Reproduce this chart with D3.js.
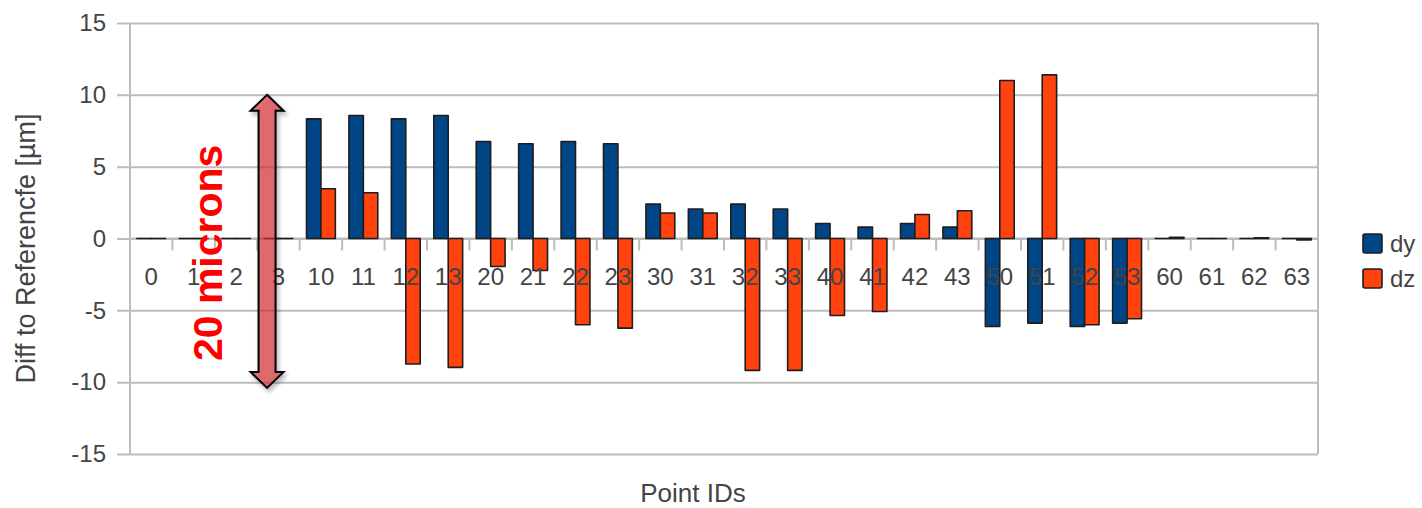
<!DOCTYPE html>
<html>
<head>
<meta charset="utf-8">
<script src="https://cdn.jsdelivr.net/npm/d3@7"></script>
<style>
  html, body { margin: 0; padding: 0; background: #fff; }
  svg { display: block; font-family: "Liberation Sans", Arial, sans-serif; }
</style>
</head>
<body>
<svg id="chart" width="1422" height="508"></svg>
<script>
// Point IDs along the x axis
const pointIds = ["0","1","2","3","10","11","12","13","20","21","22","23",
                  "30","31","32","33","40","41","42","43","50","51","52","53",
                  "60","61","62","63"];
// Difference to reference in microns
const dyValues = [0, 0, 0, 0, 8.33, 8.56, 8.33, 8.56, 6.75, 6.59, 6.75, 6.59,
                  2.39, 2.05, 2.39, 2.05, 1.04, 0.79, 1.04, 0.79,
                  -6.12, -5.89, -6.12, -5.89, 0, 0, 0, 0];
const dzValues = [0, 0, 0, 0, 3.46, 3.18, -8.74, -8.97, -1.95, -2.23, -6.0, -6.24,
                  1.77, 1.77, -9.18, -9.18, -5.36, -5.08, 1.67, 1.93,
                  11.0, 11.39, -6.0, -5.59, 0.08, 0, 0.05, -0.1];
const seriesNames = ["dy", "dz"];
const seriesColors = ["#004586", "#ff420e"];
const yTicks = [-15, -10, -5, 0, 5, 10, 15];
const yDomain = [-15, 15];
// Annotation: span of the double arrow and its label
const arrowSpan = [10, -10.4];
const arrowLabel = "20 microns";

const svg = d3.select("#chart");
const plot = { left: 130, right: 1318, top: 23, bottom: 454 };

const x = d3.scaleBand()
  .domain(pointIds)
  .range([plot.left, plot.right])
  .paddingInner(0.32)
  .paddingOuter(0.16);
const xSub = d3.scaleBand().domain(seriesNames).range([0, x.bandwidth()]);
const y = d3.scaleLinear().domain(yDomain).range([plot.bottom, plot.top]);

const gridColor = "#bdbdbd";
const textColor = "#444";

// Horizontal gridlines, extending left of the axis as tick marks
svg.append("g")
  .attr("transform", `translate(${plot.left},0)`)
  .call(d3.axisLeft(y).tickValues(yTicks).tickSize(13).tickPadding(11).tickFormat(d => String(d)))
  .call(g => g.select(".domain").remove())
  .call(g => g.selectAll(".tick line").attr("stroke", gridColor).attr("stroke-width", 2)
      .attr("x2", plot.right - plot.left).attr("x1", -13))
  .call(g => g.selectAll(".tick text").attr("fill", textColor)
      .style("font-size", "24px").attr("font-family", "Liberation Sans, Arial, sans-serif"));

// Plot frame: left axis and right border
svg.append("line").attr("x1", plot.left).attr("x2", plot.left)
  .attr("y1", plot.top).attr("y2", plot.bottom)
  .attr("stroke", gridColor).attr("stroke-width", 2);
svg.append("line").attr("x1", plot.right).attr("x2", plot.right)
  .attr("y1", plot.top).attr("y2", plot.bottom)
  .attr("stroke", gridColor).attr("stroke-width", 2);

// Category tick marks on the zero line
const y0 = y(0);
svg.append("g").selectAll("line")
  .data(pointIds.slice(1))
  .join("line")
  .attr("x1", d => x(d) - x.step() * x.paddingInner() / 2)
  .attr("x2", d => x(d) - x.step() * x.paddingInner() / 2)
  .attr("y1", y0).attr("y2", y0 + 12)
  .attr("stroke", gridColor).attr("stroke-width", 2);

// Zero line
svg.append("line").attr("x1", plot.left).attr("x2", plot.right)
  .attr("y1", y0).attr("y2", y0)
  .attr("stroke", gridColor).attr("stroke-width", 2);

// Bars (drawn as closed paths so zero-height bars still show their outline)
const rows = pointIds.map((id, i) => ({ id, values: [dyValues[i], dzValues[i]] }));
const groups = svg.append("g").selectAll("g")
  .data(rows)
  .join("g")
  .attr("transform", d => `translate(${x(d.id)},0)`);
groups.selectAll("path")
  .data(d => d.values.map((v, k) => ({ key: seriesNames[k], value: v, color: seriesColors[k] })))
  .join("path")
  .attr("d", d => {
    const x0 = xSub(d.key), x1 = x0 + xSub.bandwidth();
    const yTop = y(Math.max(0, d.value)), yBot = y(Math.min(0, d.value));
    return `M${x0},${yTop}H${x1}V${yBot}H${x0}Z`;
  })
  .attr("fill", d => d.color)
  .attr("stroke", "#1e1e1e")
  .attr("stroke-width", 1.6)
  .attr("stroke-linejoin", "round");

// Category labels
svg.append("g").selectAll("text")
  .data(pointIds)
  .join("text")
  .attr("x", d => x(d) + x.bandwidth() / 2)
  .attr("y", y0 + 46)
  .attr("text-anchor", "middle")
  .attr("fill", textColor)
  .style("font-size", "24px")
  .text(d => d);

// Axis titles
svg.append("text")
  .attr("transform", `translate(35,${(plot.top + plot.bottom) / 2 + 10}) rotate(-90)`)
  .attr("text-anchor", "middle")
  .attr("fill", textColor)
  .style("font-size", "27px")
  .text("Diff to Referencfe [µm]");
svg.append("text")
  .attr("x", 693).attr("y", 502)
  .attr("text-anchor", "middle")
  .attr("fill", textColor)
  .style("font-size", "26px")
  .text("Point IDs");

// Legend
const legend = svg.append("g").selectAll("g")
  .data(seriesNames)
  .join("g")
  .attr("transform", (d, i) => `translate(1363,${234 + i * 35})`);
legend.append("rect")
  .attr("width", 19).attr("height", 19).attr("rx", 2)
  .attr("fill", (d, i) => seriesColors[i])
  .attr("stroke", "#1e1e1e").attr("stroke-width", 1.6);
legend.append("text")
  .attr("x", 27).attr("y", 18)
  .attr("fill", textColor)
  .style("font-size", "24px")
  .text(d => d);

// Double arrow annotation
const defs = svg.append("defs");
const shadow = defs.append("filter").attr("id", "shadow")
  .attr("x", "-50%").attr("y", "-10%").attr("width", "200%").attr("height", "120%");
shadow.append("feDropShadow").attr("dx", 2).attr("dy", 3).attr("stdDeviation", 2)
  .attr("flood-color", "#000").attr("flood-opacity", 0.35);

const ax = x("3") + 3;
const aTop = y(arrowSpan[0]);
const aBot = y(arrowSpan[1]);
const shaftHalf = 8.5, headHalf = 16.5, headLen = 16;
const arrowPath = d3.path();
arrowPath.moveTo(ax, aTop);
arrowPath.lineTo(ax + headHalf, aTop + headLen);
arrowPath.lineTo(ax + shaftHalf, aTop + headLen);
arrowPath.lineTo(ax + shaftHalf, aBot - headLen);
arrowPath.lineTo(ax + headHalf, aBot - headLen);
arrowPath.lineTo(ax, aBot);
arrowPath.lineTo(ax - headHalf, aBot - headLen);
arrowPath.lineTo(ax - shaftHalf, aBot - headLen);
arrowPath.lineTo(ax - shaftHalf, aTop + headLen);
arrowPath.lineTo(ax - headHalf, aTop + headLen);
arrowPath.closePath();
svg.append("path")
  .attr("d", arrowPath.toString())
  .attr("fill", "rgba(222,45,55,0.62)")
  .attr("stroke", "#000")
  .attr("stroke-width", 2)
  .attr("stroke-linejoin", "miter")
  .attr("filter", "url(#shadow)");

svg.append("text")
  .attr("transform", `translate(${ax - 45},${y(-1)}) rotate(-90)`)
  .attr("text-anchor", "middle")
  .attr("fill", "#ff0000")
  .style("font-size", "41px")
  .style("font-weight", "bold")
  .text(arrowLabel);
</script>
</body>
</html>
